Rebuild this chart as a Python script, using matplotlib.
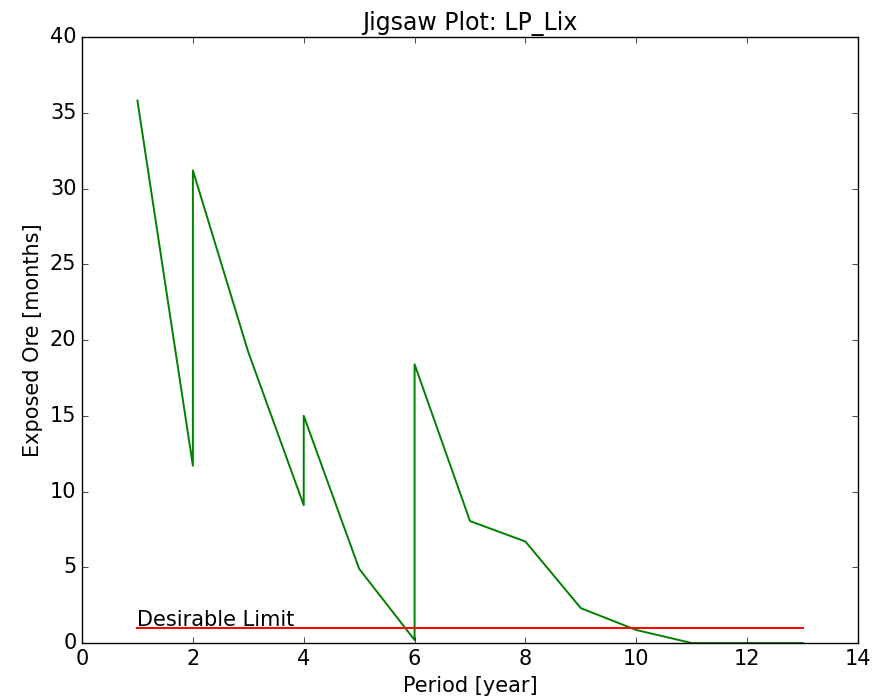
import matplotlib
matplotlib.use("Agg")
import matplotlib.pyplot as plt

plt.style.use("classic")

periods = [1, 2, 2, 3, 4, 4, 5, 6, 6, 7, 8, 9, 10, 11, 12, 13]
exposed = [35.8, 11.7, 31.2, 19.2, 9.1, 15.0, 4.9, 0.2, 18.4, 8.05, 6.7, 2.3, 0.86, 0.0, 0.0, 0.0]
limit_x = [1, 13]
limit_y = [1, 1]

fig = plt.figure(figsize=(8.81, 6.96), dpi=100, facecolor="white")
ax = fig.add_axes([0.0931, 0.0761, 0.8808, 0.8707])

ax.plot(periods, exposed, color="g", linewidth=1.4)
ax.plot(limit_x, limit_y, color="r", linewidth=1.4)
ax.text(1, 1.1, "Desirable Limit", fontsize=15)

ax.set_xlim(0, 14)
ax.set_ylim(0, 40)
ax.set_title("Jigsaw Plot: LP_Lix", fontsize=17)
ax.set_xlabel("Period [year]", fontsize=15)
ax.set_ylabel("Exposed Ore [months]", fontsize=15)
ax.tick_params(labelsize=15)

fig.savefig("out.png", dpi=100, facecolor="white")
